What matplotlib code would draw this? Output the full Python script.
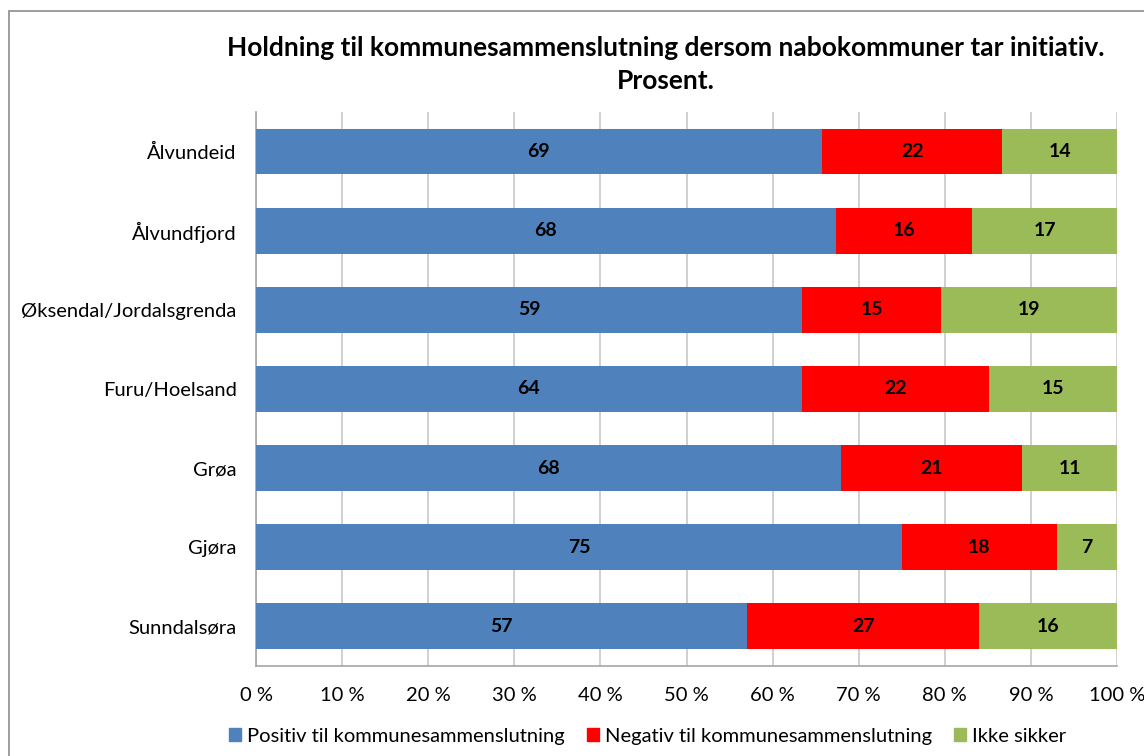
import numpy as np
import matplotlib.pyplot as plt
from matplotlib.patches import Rectangle, Patch

plt.rcParams['font.family'] = ['Lato', 'DejaVu Sans']

steder = ['Ålvundeid', 'Ålvundfjord', 'Øksendal/Jordalsgrenda', 'Furu/Hoelsand',
          'Grøa', 'Gjøra', 'Sunndalsøra']
positiv = [69, 68, 59, 64, 68, 75, 57]
negativ = [22, 16, 15, 22, 21, 18, 27]
usikker = [14, 17, 19, 15, 11, 7, 16]
serier = ['Positiv til kommunesammenslutning', 'Negativ til kommunesammenslutning', 'Ikke sikker']
farger = ['#4f81bd', '#ff0000', '#9bbb59']

fig = plt.figure(figsize=(11.44, 7.56), dpi=100)
ax = fig.add_axes([0.2238, 0.119, 0.7526, 0.733])

data = np.array([positiv, negativ, usikker], dtype=float)
andel = data / data.sum(axis=0) * 100  # 100 % stablet
y = np.arange(len(steder))[::-1]

venstre = np.zeros(len(steder))
for i in range(3):
    ax.barh(y, andel[i], left=venstre, height=0.58, color=farger[i], zorder=3)
    for j in range(len(steder)):
        ax.text(venstre[j] + andel[i][j] / 2, y[j], str(int(data[i][j])),
                ha='center', va='center', fontsize=14, fontweight='bold', zorder=4)
    venstre += andel[i]

ax.set_xlim(0, 100)
ax.set_ylim(-0.5, len(steder) - 0.5)
ax.set_yticks(y)
ax.set_yticklabels(steder, fontsize=14.5)
ax.set_xticks(np.arange(0, 101, 10))
ax.set_xticklabels([f'{v} %' for v in range(0, 101, 10)], fontsize=14.5)
ax.tick_params(axis='y', length=0, pad=14)
ax.tick_params(axis='x', length=0, pad=15)
ax.grid(axis='x', color='#c8c8c8', linewidth=1.2, zorder=0)
for s in ['top', 'right']:
    ax.spines[s].set_visible(False)
for s in ['left', 'bottom']:
    ax.spines[s].set_color('#a6a6a6')
    ax.spines[s].set_linewidth(1.2)

fig.text(0.582, 0.937, 'Holdning til kommunesammenslutning dersom nabokommuner tar initiativ.',
         ha='center', va='center', fontsize=19, fontweight='bold')
fig.text(0.582, 0.893, 'Prosent.', ha='center', va='center', fontsize=19, fontweight='bold')

handles = [Patch(color=c) for c in farger]
fig.legend(handles, serier, loc='center', bbox_to_anchor=(0.566, 0.026), ncol=3,
           frameon=False, fontsize=14.5, handlelength=0.6, handleheight=0.6,
           handletextpad=0.3, columnspacing=1.1)

fig.patches.append(Rectangle((9 / 1144, -0.05), 1.1, 1.05 - 11 / 756,
                             transform=fig.transFigure, fill=False,
                             edgecolor='#8c8c8c', linewidth=1.2))

fig.savefig('out.png', dpi=100)
